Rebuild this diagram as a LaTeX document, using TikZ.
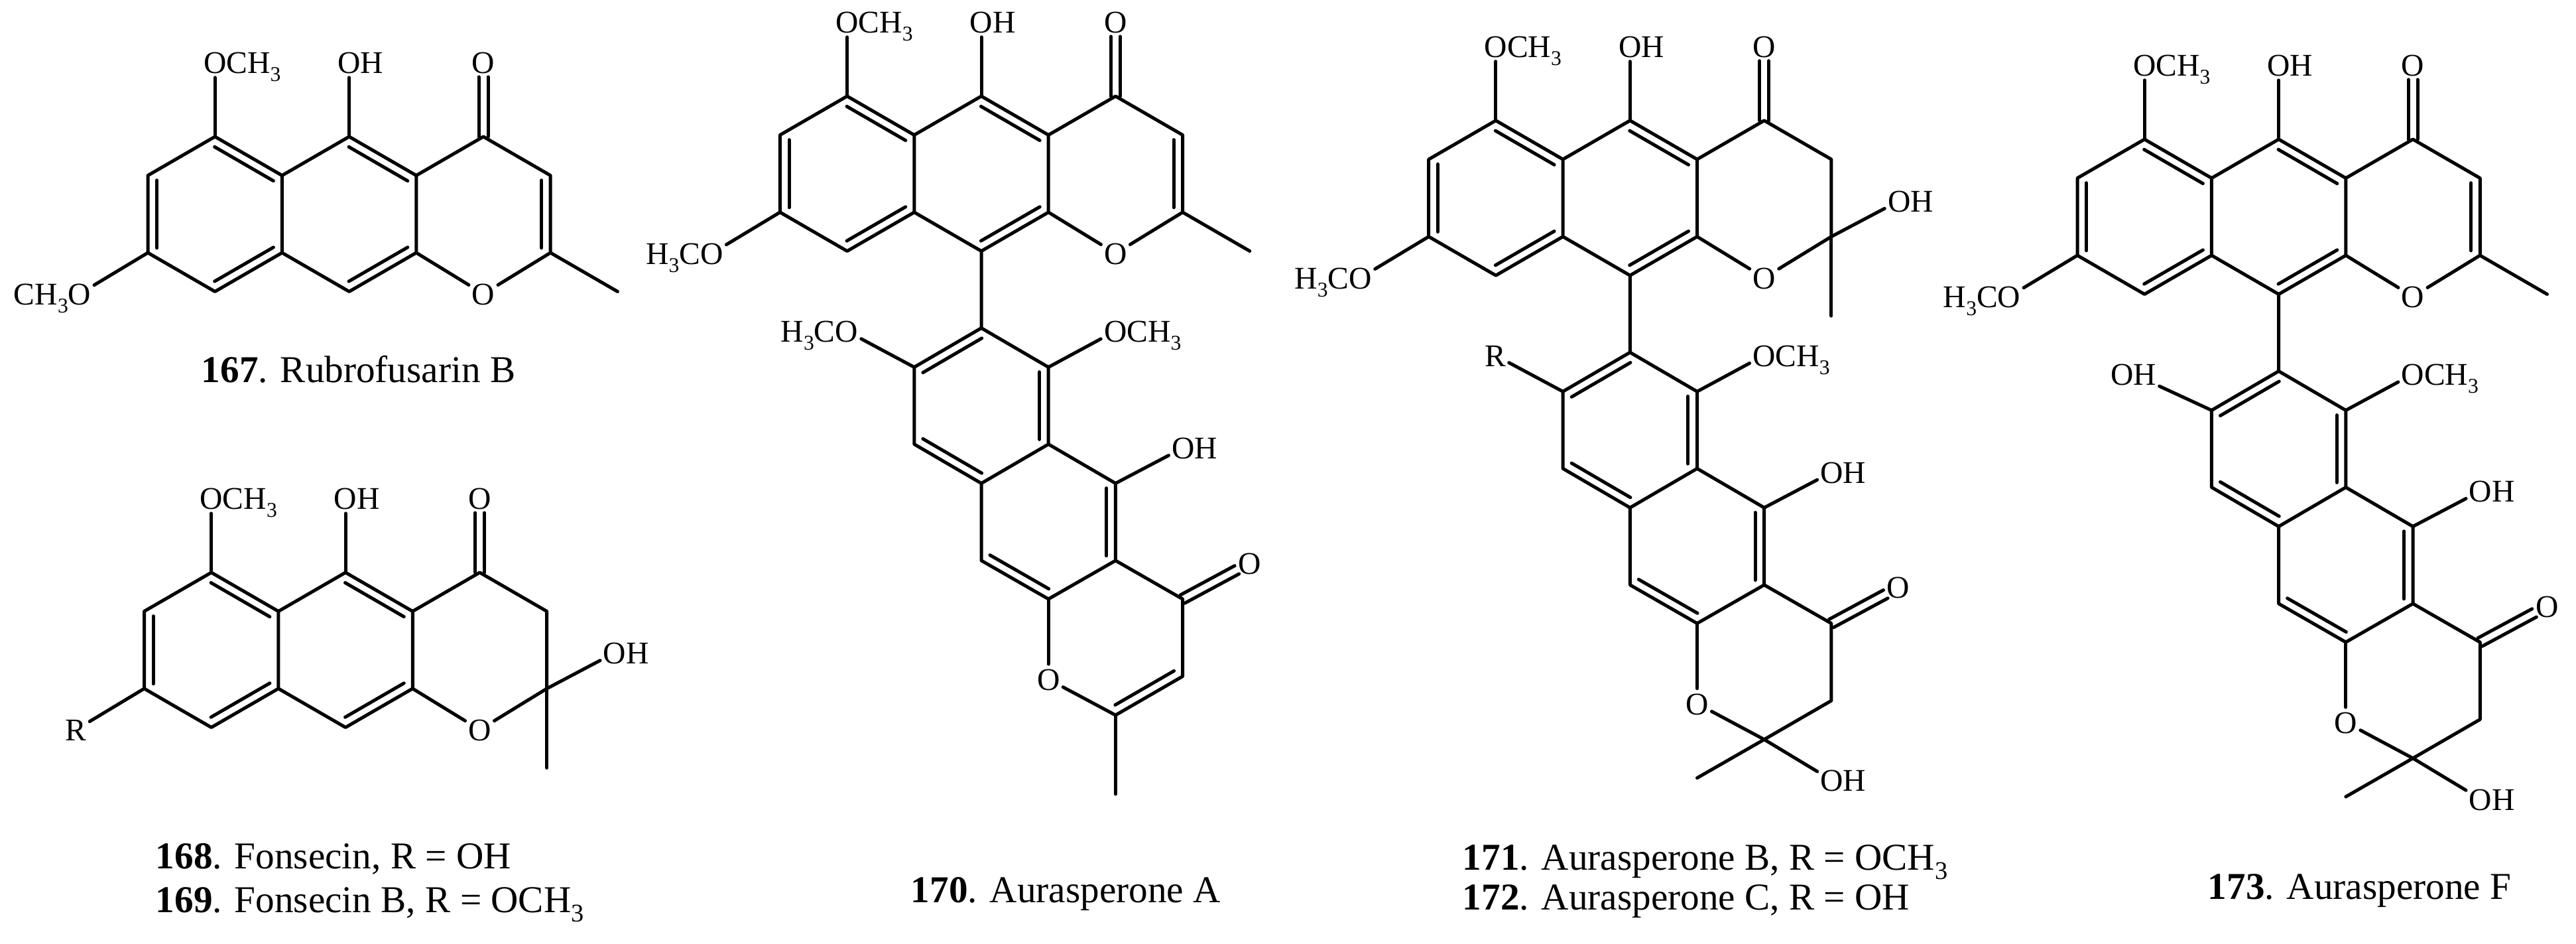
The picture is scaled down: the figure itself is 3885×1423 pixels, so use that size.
\documentclass[tikz,border=0pt]{standalone}
\usepackage{fontspec}
\setmainfont{Liberation Serif}
\usetikzlibrary{calc}
\newcommand{\sthree}{\raisebox{-3pt}{\fontsize{7.9}{8}\selectfont 3}}
\newcommand{\capthree}{\raisebox{-3.6pt}{\fontsize{9.6}{10}\selectfont 3}}
\tikzset{
  bond/.style={line width=1.25pt,line cap=round,line join=round,black},
  atom/.style={inner xsep=1pt,inner ysep=1.4pt,text height=8.25pt,text depth=0pt,
    font=\fontsize{11.9}{14}\selectfont,text=black},
  capt/.style={anchor=base west,inner sep=0pt,font=\fontsize{14.3}{17}\selectfont,text=black}
}
% inner line of a double bond: on the left of the direction a -> b
\newcommand{\dbl}[2]{%
  \draw[bond,shorten <=1.8pt,shorten >=1.8pt] ($(#1)!3.4pt!90:(#2)$) -- ($(#2)!3.4pt!-90:(#1)$);}
% exocyclic C=O
\newcommand{\carbonyl}[2]{%
  \draw[bond,shorten >=5.5pt] ($(#1)!1.75pt!90:(#2.center)$) -- ($(#2.center)!1.75pt!-90:(#1)$);
  \draw[bond,shorten >=5.5pt] ($(#1)!1.75pt!-90:(#2.center)$) -- ($(#2.center)!1.75pt!90:(#1)$);}
% tricyclic core: #1 prefix, #2 left substituent text
\newcommand{\core}[2]{%
  \coordinate (#1A) at (0,58.5);
  \coordinate (#1B) at (101.2,0);
  \coordinate (#1C) at (202.4,58.5);
  \coordinate (#1D) at (303.6,0);
  \coordinate (#1E) at (404.8,58.5);
  \coordinate (#1F) at (506,0);
  \coordinate (#1G) at (607.2,58.5);
  \coordinate (#1H) at (0,175);
  \coordinate (#1I) at (101.2,233.5);
  \coordinate (#1J) at (202.4,175);
  \coordinate (#1K) at (303.6,233.5);
  \coordinate (#1L) at (404.8,175);
  \coordinate (#1N) at (607.2,175);
  \node[atom] (#1ome) at (101.2,-112) {O\rlap{CH\sthree}};
  \node[atom] (#1oh) at (303.6,-112) {O\rlap{H}};
  \node[atom] (#1co) at (506,-112) {O};
  \node[atom] (#1ox) at (506,237) {O};
  \node[atom] (#1left) at (-103,237) {#2};
  \draw[bond] (#1B)--(#1A)--(#1H)--(#1I)--(#1J)--(#1C)--(#1B);
  \draw[bond] (#1C)--(#1D)--(#1E)--(#1L)--(#1K)--(#1J);
  \draw[bond] (#1E)--(#1F)--(#1G)--(#1N);
  \dbl{#1A}{#1H}\dbl{#1I}{#1J}\dbl{#1C}{#1B}\dbl{#1K}{#1L}\dbl{#1E}{#1D}
  \draw[bond] (#1B)--(#1ome);
  \draw[bond] (#1D)--(#1oh);
  \carbonyl{#1F}{#1co}
  \draw[bond] (#1L)--(#1ox);
  \draw[bond] (#1ox)--(#1N);
  \draw[bond] (#1H)--(#1left);
}
% right ring, chromone form
\newcommand{\tailone}[1]{%
  \coordinate (#1me) at (708.4,233.5);
  \dbl{#1N}{#1G}
  \draw[bond] (#1N)--(#1me);
}
% right ring, hemiketal form
\newcommand{\tailol}[1]{%
  \coordinate (#1me) at (607.2,294.5);
  \node[atom] (#1roh) at (709.5,121) {O\rlap{H}};
  \draw[bond] (#1N)--(#1me);
  \draw[bond] (#1N)--(#1roh);
}
% lower half: #1 prefix, #2 left substituent text, #3 its x offset from the ring atom
\newcommand{\lowerhalf}[3]{%
  \coordinate (#1T) at (303.6,349.5);
  \coordinate (#1P) at (202.4,408.5);
  \coordinate (#1Q) at (404.8,408.5);
  \coordinate (#1R) at (202.4,524.6);
  \coordinate (#1S) at (404.8,524.6);
  \coordinate (#1U) at (303.6,583.6);
  \coordinate (#1V) at (303.6,700);
  \coordinate (#1W) at (404.8,758);
  \coordinate (#1X) at (506,700);
  \coordinate (#1Y) at (506,583.6);
  \coordinate (#1Z) at (607.2,758);
  \coordinate (#1a) at (607.2,874.5);
  \coordinate (#1b) at (506,933);
  \node[atom] (#1lsub) at (202.4+#3,354) {#2};
  \node[atom] (#1lome) at (505.8,354) {O\rlap{CH\sthree}};
  \node[atom] (#1loh) at (608,530) {O\rlap{H}};
  \node[atom] (#1lo) at (404.8,879) {O};
  \node[atom] (#1lco) at (708.4,703.5) {O};
  \draw[bond] (#1K)--(#1T)--(#1P)--(#1R)--(#1U)--(#1S)--(#1Q)--(#1T);
  \draw[bond] (#1U)--(#1V)--(#1W)--(#1X)--(#1Y)--(#1S);
  \draw[bond] (#1X)--(#1Z)--(#1a)--(#1b);
  \draw[bond] (#1W)--(#1lo);
  \draw[bond] (#1lo)--(#1b);
  \dbl{#1T}{#1P}\dbl{#1S}{#1Q}\dbl{#1R}{#1U}\dbl{#1X}{#1Y}\dbl{#1V}{#1W}
  \draw[bond] (#1P)--(#1lsub);
  \draw[bond] (#1Q)--(#1lome);
  \draw[bond] (#1Y)--(#1loh);
  \carbonyl{#1Z}{#1lco}
}
\newcommand{\lowone}[1]{%
  \coordinate (#1lme) at (506,1052);
  \dbl{#1b}{#1a}
  \draw[bond] (#1b)--(#1lme);
}
\newcommand{\lowol}[1]{%
  \coordinate (#1lme) at (404.8,991);
  \node[atom] (#1boh) at (608,994.5) {O\rlap{H}};
  \draw[bond] (#1b)--(#1lme);
  \draw[bond] (#1b)--(#1boh);
}
\begin{document}
\begin{tikzpicture}[x=0.25pt,y=-0.25pt]
\useasboundingbox (0,0) rectangle (3885,1423);
\fill[white] (0,0) rectangle (3885,1423);
% 167
\begin{scope}[shift={(223,206)}]
  \core{ma}{\llap{CH\sthree}O}
  \tailone{ma}
\end{scope}
% 168/169
\begin{scope}[shift={(217.5,863)}]
  \core{mb}{R}
  \tailol{mb}
\end{scope}
% 170
\begin{scope}[shift={(1176.4,145)}]
  \core{mc}{\llap{H\sthree C}O}
  \tailone{mc}
  \lowerhalf{mc}{\llap{H\sthree C}O}{-102}
  \lowone{mc}
\end{scope}
% 171/172
\begin{scope}[shift={(2154.7,181.7)}]
  \core{md}{\llap{H\sthree C}O}
  \tailol{md}
  \lowerhalf{md}{R}{-102}
  \lowol{md}
\end{scope}
% 173
\begin{scope}[shift={(3133,210)}]
  \core{me}{\llap{H\sthree C}O}
  \tailone{me}
  \lowerhalf{me}{OH}{-118}
  \lowol{me}
\end{scope}
\node[capt] (ca) at (303,576) {\textbf{167}. Rubrofusarin B};
\node[capt] (cb) at (234,1309) {\textbf{168}. Fonsecin, R = OH};
\node[capt] (cc) at (234,1375) {\textbf{169}. Fonsecin B, R = OCH\capthree};
\node[capt] (cd) at (1373,1360) {\textbf{170}. Aurasperone A};
\node[capt] (ce) at (2205,1311) {\textbf{171}. Aurasperone B, R = OCH\capthree};
\node[capt] (cf) at (2205,1371) {\textbf{172}. Aurasperone C, R = OH};
\node[capt] (cg) at (3329,1355) {\textbf{173}. Aurasperone F};
\end{tikzpicture}
\end{document}
